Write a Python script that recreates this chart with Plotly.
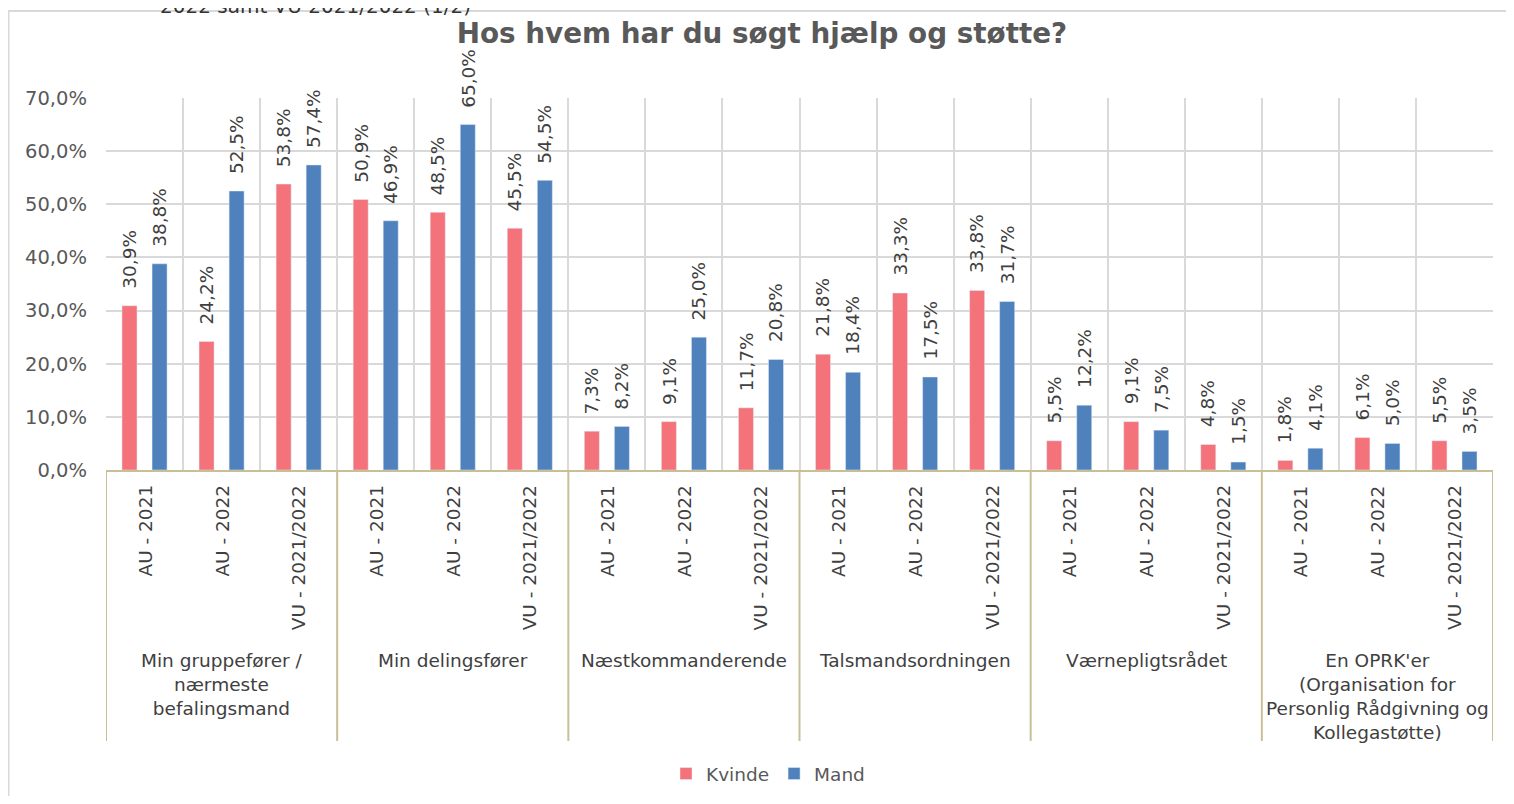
import plotly.graph_objects as go

groups = [
    "Min gruppefører /<br>nærmeste<br>befalingsmand",
    "Min delingsfører",
    "Næstkommanderende",
    "Talsmandsordningen",
    "Værnepligtsrådet",
    "En OPRK'er<br>(Organisation for<br>Personlig Rådgivning og<br>Kollegastøtte)",
]
periods = ["AU - 2021", "AU - 2022", "VU - 2021/2022"]

kvinde = [30.9, 24.2, 53.8, 50.9, 48.5, 45.5, 7.3, 9.1, 11.7,
          21.8, 33.3, 33.8, 5.5, 9.1, 4.8, 1.8, 6.1, 5.5]
mand = [38.8, 52.5, 57.4, 46.9, 65.0, 54.5, 8.2, 25.0, 20.8,
        18.4, 17.5, 31.7, 12.2, 7.5, 1.5, 4.1, 5.0, 3.5]

# page sits inside an 8px body margin, so work in page pixels and convert
OFF = 8
W, H = 1514 - 2 * OFF, 804 - 2 * OFF
L, T = 106 - OFF, 98 - OFF
R = W - (1493 - OFF)
B = H - (470 - OFF)
PW, PH = W - L - R, H - T - B

FONT = "DejaVu Sans"
TXT = "#404040"
GREY = "#595959"
PINK = "#F4727A"
BLUE = "#4F81BD"
TAN = "#C9BF97"
GRID = "#D9D9D9"
FS = 18.5

n = len(groups) * len(periods)
xs = list(range(n))
sub_labels = [p for g in groups for p in periods]
off = 0.195  # bar centre offset in grouped mode (1-bargap)/4


def py(pix):
    return (T + PH - (pix - OFF)) / PH


def px(pix):
    return (pix - OFF - L) / PW


fig = go.Figure()
fig.add_trace(go.Bar(x=xs, y=kvinde, name="Kvinde", marker_color=PINK,
                     hoverinfo="skip"))
fig.add_trace(go.Bar(x=xs, y=mand, name="Mand", marker_color=BLUE,
                     hoverinfo="skip"))

ann = []
for i in xs:
    for dx, v in ((-off, kvinde[i]), (off, mand[i])):
        ann.append(dict(x=i + dx, y=v, xref="x", yref="y",
                        text=f"{v:.1f}%".replace(".", ","),
                        textangle=-90, showarrow=False,
                        xanchor="center", yanchor="bottom", yshift=15,
                        font=dict(size=FS, color=TXT, family=FONT)))
    ann.append(dict(x=i, y=py(483), xref="x", yref="paper",
                    text=sub_labels[i], textangle=-90, showarrow=False,
                    xanchor="center", yanchor="top",
                    font=dict(size=FS, color=TXT, family=FONT)))

for g, name in enumerate(groups):
    ann.append(dict(x=g * 3 + 1, y=py(648), xref="x", yref="paper",
                    text=name, showarrow=False, xanchor="center",
                    yanchor="top", align="center",
                    font=dict(size=FS, color=TXT, family=FONT)))

ann.append(dict(x=px(158), y=py(6), xref="paper", yref="paper",
                text="2022 samt VU 2021/2022 (1/2)", showarrow=False,
                xanchor="left", yanchor="middle",
                font=dict(size=20, color="#333333", family=FONT)))

shapes = [dict(type="rect", xref="paper", yref="paper",
               x0=px(8.5), x1=px(1530), y0=py(830), y1=py(11),
               line=dict(color=GRID, width=2), layer="below")]
for g in range(len(groups) + 1):
    xb = g * 3 - 0.5
    shapes.append(dict(type="line", xref="x", yref="paper",
                       x0=xb, x1=xb, y0=0, y1=py(741),
                       line=dict(color=TAN, width=2)))

fig.update_layout(
    width=W, height=H,
    margin=dict(l=L, r=R, t=T, b=B, autoexpand=False),
    paper_bgcolor="white", plot_bgcolor="white",
    separators=",.",
    barmode="group", bargap=0.22, bargroupgap=0.5,
    font=dict(family=FONT, size=FS, color=GREY),
    title=dict(text="<b>Hos hvem har du søgt hjælp og støtte?</b>",
               x=(762 - OFF) / W, y=1 - (33 - OFF) / H,
               xref="container", yref="container",
               xanchor="center", yanchor="middle",
               font=dict(size=27.8, color=GREY, family=FONT)),
    xaxis=dict(range=[-0.5, n - 0.5], tickvals=[i - 0.5 for i in range(n + 1)],
               showticklabels=False, showgrid=True, gridcolor=GRID,
               gridwidth=2, showline=True, linecolor=TAN, linewidth=2,
               zeroline=False, ticks=""),
    yaxis=dict(range=[0, 70], dtick=10, tickformat=".1f", ticksuffix="%",
               showgrid=True, gridcolor=GRID, gridwidth=2, zeroline=False,
               ticklabelstandoff=18,
               tickfont=dict(size=19.5, color=GREY)),
    legend=dict(orientation="h", x=px(768), xanchor="center",
                y=py(774), yanchor="middle",
                font=dict(size=FS, color=GREY), itemwidth=30,
                traceorder="normal"),
    annotations=ann, shapes=shapes,
)

fig.write_html("out.html")
